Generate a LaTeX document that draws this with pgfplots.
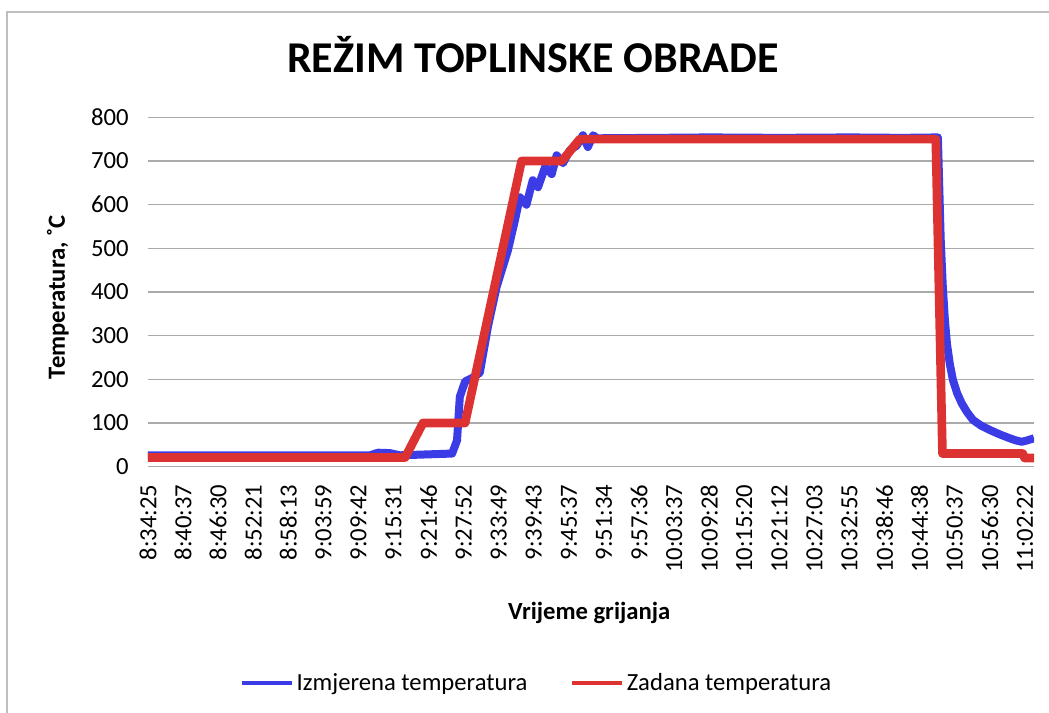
\documentclass[border=0pt]{standalone}
\usepackage{fontspec}
\setmainfont{Carlito}
\usepackage{pgfplots}
\pgfplotsset{compat=1.18}

\definecolor{izm}{RGB}{60,60,230}
\definecolor{zad}{RGB}{220,50,50}
\definecolor{grd}{RGB}{170,170,170}
\definecolor{frm}{RGB}{190,190,190}

\newcommand{\tf}{\fontsize{18.5}{22}\selectfont}

\begin{document}
\begin{tikzpicture}
\useasboundingbox (-111pt,-184.75pt) rectangle (675.75pt,350pt);
\draw[frm, line width=1.1pt] (-105.75pt,-200pt) -- (-105.75pt,341pt) -- (700pt,341pt);
\begin{axis}[
  scale only axis, width=664.5pt, height=262pt,
  xmin=0, xmax=25.26, ymin=0, ymax=800,
  ytick={0,100,...,800},
  xtick={0,...,25},
  xticklabels={8:34:25,8:40:37,8:46:30,8:52:21,8:58:13,9:03:59,9:09:42,9:15:31,9:21:46,9:27:52,9:33:49,9:39:43,9:45:37,9:51:34,9:57:36,10:03:37,10:09:28,10:15:20,10:21:12,10:27:03,10:32:55,10:38:46,10:44:38,10:50:37,10:56:30,11:02:22},
  axis line style={draw=none}, major tick length=0pt,
  ymajorgrids, grid style={grd, line width=1.1pt},
  /pgf/number format/assume math mode=true,
  ticklabel style={font=\tf},
  xticklabel style={rotate=90, anchor=east, xshift=-10pt},
  yticklabel style={xshift=-11pt},
  title={REŽIM TOPLINSKE OBRADE},
  title style={at={(axis description cs:0.4345,1.158)}, anchor=center, font=\fontsize{33}{38}\selectfont\bfseries},
  xlabel={Vrijeme grijanja},
  xlabel style={at={(axis description cs:0.498,-0.419)}, anchor=center, font=\tf\bfseries},
  ylabel={Temperatura, ˚C},
  ylabel style={at={(axis description cs:-0.1016,0.485)}, anchor=center, rotate=0, font=\tf\bfseries},
  legend style={at={(axis description cs:0.439,-0.619)}, anchor=center, draw=none, fill=none,
    font=\tf, /tikz/every even column/.append style={column sep=30pt}},
  legend columns=2, legend cell align=left,
  legend image code/.code={\draw[#1, line width=3.5pt] (0pt,0pt) -- (37pt,0pt);},
]
\addplot[izm, line width=6pt, line join=round] coordinates {
(0,26) (6.33,26) (6.56,32) (6.90,31) (7.18,26) (8.67,30) (8.81,60) (8.89,160)
(9.04,195) (9.24,203) (9.46,215) (9.69,320) (9.94,412) (10.26,495) (10.46,564)
(10.60,617) (10.79,600) (10.97,656) (11.12,640) (11.32,686) (11.51,670) (11.65,713)
(11.83,695) (12.03,725) (12.22,735) (12.40,759) (12.54,732) (12.69,759) (12.80,752)
(14.5,753) (16.0,754) (18.0,753) (20.0,754) (21.5,753) (22.52,754)
(22.60,520) (22.66,412) (22.72,335) (22.78,280) (22.86,235) (22.95,198) (23.07,168)
(23.20,145) (23.35,125) (23.52,107) (23.75,94) (24.00,84) (24.28,74)
(24.57,65) (24.75,60) (24.91,57) (25.06,60) (25.26,65)
};
\addlegendentry{Izmjerena temperatura}
\addplot[zad, line width=6.5pt, line join=round] coordinates {
(0,21) (7.33,21) (7.84,100) (9.04,100) (10.65,700) (11.80,700) (12.31,750)
(22.46,750) (22.65,30) (24.94,30) (24.99,20) (25.26,20)
};
\addlegendentry{Zadana temperatura}
\end{axis}
\end{tikzpicture}
\end{document}
